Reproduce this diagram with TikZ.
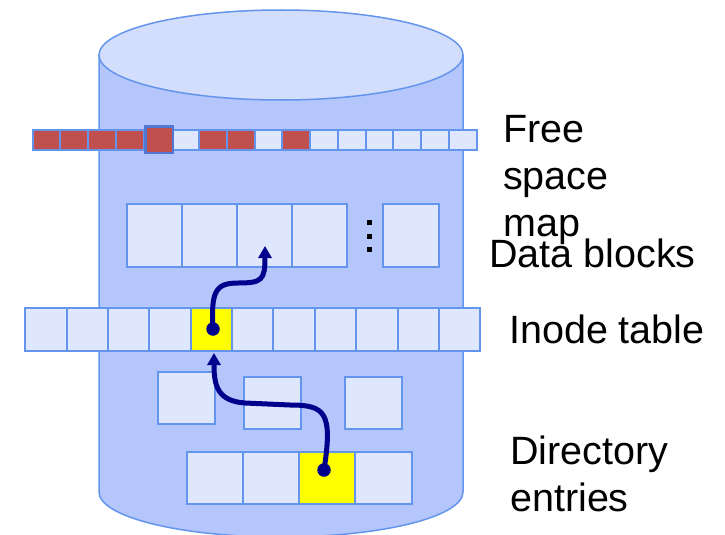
\documentclass[tikz,border=0pt]{standalone}
\usepackage{fontspec}
\setmainfont{Liberation Sans}
\usetikzlibrary{arrows.meta}
\definecolor{edge}{RGB}{100,149,237}
\definecolor{bigedge}{RGB}{80,120,210}
\definecolor{body}{RGB}{180,198,252}
\definecolor{lid}{RGB}{211,221,252}
\definecolor{cellfill}{RGB}{222,231,253}
\definecolor{used}{RGB}{192,80,77}
\definecolor{hilite}{RGB}{255,255,0}
\definecolor{pointer}{RGB}{0,0,140}
\begin{document}
\begin{tikzpicture}[x=1pt,y=-1pt,
  cell/.style={draw=edge, line width=2pt, fill=cellfill, inner sep=0pt, anchor=north west},
  lbl/.style={font=\fontsize{39.5}{47}\selectfont, inner sep=0pt, anchor=base west, align=left},
  ptr/.style={draw=pointer, line width=5pt, -{Triangle[width=13pt,length=12pt]}},
  ptrdot/.style={circle, fill=pointer, inner sep=0pt, minimum size=13.5pt}]
\useasboundingbox (0,0) rectangle (725,535);

% disk body
\fill[body] (99,55) rectangle (463,492);
\fill[body] (281,492) ellipse[x radius=182, y radius=45];
\draw[edge, line width=1.5pt] (99,55) -- (99,492)
  arc[start angle=180, end angle=0, x radius=182, y radius=45] -- (463,55);
\draw[edge, line width=1.5pt, fill=lid] (281,55) ellipse[x radius=182, y radius=45];

% free space map
\foreach \i/\f in {0/used,1/used,2/used,3/used,4/used,5/cellfill,6/used,7/used,
                   8/cellfill,9/used,10/cellfill,11/cellfill,12/cellfill,13/cellfill,
                   14/cellfill,15/cellfill}
  \node[cell, fill=\f, minimum width=27.75pt, minimum height=20.3pt]
    (fs\i) at ({31.7+27.75*\i},129) {};
\node[cell, fill=used, draw=bigedge, line width=2.5pt,
      minimum width=27.5pt, minimum height=26.5pt] (fsbig) at (144,125) {};

% data blocks
\foreach \i in {0,...,3}
  \node[cell, minimum width=55.1pt, minimum height=63.3pt]
    (db\i) at ({125.7+55.1*\i},202.7) {};
\node[cell, minimum width=56pt, minimum height=63.3pt] (dblast) at (382.3,202.7) {};
\foreach \y in {222.7,236,249.3}
  \fill (366.8,{\y-2.5}) rectangle ++(5,5);

% inode table
\foreach \i/\f in {0/cellfill,1/cellfill,2/cellfill,3/cellfill,4/hilite,5/cellfill,
                   6/cellfill,7/cellfill,8/cellfill,9/cellfill,10/cellfill}
  \node[cell, fill=\f, minimum width=41.36pt, minimum height=42.7pt]
    (ino\i) at ({24.3+41.36*\i},307.3) {};

% loose blocks
\node[cell, minimum width=57pt, minimum height=52.6pt] (m1) at (157.3,370.7) {};
\node[cell, minimum width=57.3pt, minimum height=52pt] (m2) at (242.7,375.7) {};
\node[cell, minimum width=56.7pt, minimum height=52pt] (m3) at (344.3,375.7) {};

% directory entries
\foreach \i/\f in {0/cellfill,1/cellfill,2/hilite,3/cellfill}
  \node[cell, fill=\f, minimum width=56.25pt, minimum height=52.6pt]
    (dir\i) at ({185.7+56.25*\i},450.7) {};

% pointers
\node[ptrdot] (dot1) at (213,329) {};
\node[ptrdot] (dot2) at (324,470) {};
\coordinate (tip1) at (265,246);
\coordinate (tip2) at (214,353);
\draw[ptr] (dot1.center) .. controls (211,292) and (215,283) .. (238,283)
  .. controls (262,283) and (265,280) .. (tip1);
\draw[ptr] (dot2.center) .. controls (333,412) and (325,405) .. (290,405)
  -- (245,403) .. controls (217,401) and (214,385) .. (tip2);

% labels (anchored at the baseline of the last line)
\node[lbl] (lfree) at (503,236.3) {Free\\space\\map};
\node[lbl] (ldata) at (489,267.3) {Data blocks};
\node[lbl] (linode) at (509,343.3) {Inode table};
\node[lbl] (ldir) at (510,511.7) {Directory\\entries};
\end{tikzpicture}
\end{document}
